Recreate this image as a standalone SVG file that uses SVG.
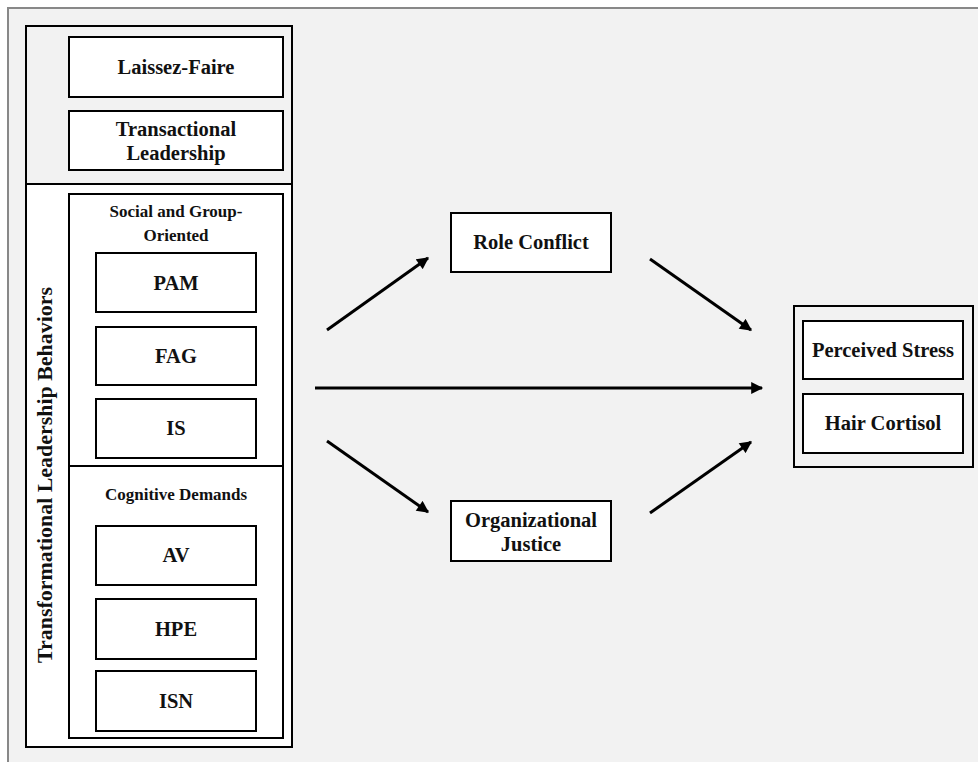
<svg xmlns="http://www.w3.org/2000/svg" width="978" height="762" viewBox="0 0 978 762">
<defs>
<style>
.bg{fill:#f2f2f2}
.box{fill:#ffffff;stroke:#000;stroke-width:2}
.frame{fill:none;stroke:#000;stroke-width:2}
.t{font-family:"Liberation Serif","Times New Roman",serif;font-weight:bold;font-size:20.5px;fill:#111;text-anchor:middle}
.s{font-size:17px}
.conn{stroke:#000;stroke-width:3;fill:none;marker-end:url(#ah)}
</style>
<marker id="ah" viewBox="0 0 10 10" refX="9" refY="5" markerWidth="4.5" markerHeight="4" orient="auto" markerUnits="strokeWidth">
<path d="M0,0 L10,5 L0,10 z" fill="#000"/>
</marker>
</defs>
<rect x="0" y="0" width="978" height="762" fill="#ffffff"/>
<rect x="8" y="8" width="972" height="760" class="bg" stroke="#888" stroke-width="2"/>

<g id="left-panel">
<rect x="26" y="26" width="266" height="721" fill="#f2f2f2" stroke="#000" stroke-width="2"/>
<rect x="26" y="184" width="266" height="563" fill="#ffffff" stroke="#000" stroke-width="2"/>
<text class="t" transform="translate(52,475) rotate(-90)" textLength="376" lengthAdjust="spacingAndGlyphs" style="font-size:21px">Transformational  Leadership Behaviors</text>
</g>
<g id="laissez-faire">
<rect x="69" y="37" width="214" height="60" class="box"/>
<text class="t" x="176" y="74">Laissez-Faire</text>
</g>
<g id="transactional">
<rect x="69" y="111" width="214" height="59" class="box"/>
<text class="t" x="176" y="136">Transactional</text>
<text class="t" x="176" y="160">Leadership</text>
</g>
<g id="social-group">
<rect x="69" y="194" width="214" height="544" class="box"/>
<line x1="69" y1="466" x2="283" y2="466" stroke="#000" stroke-width="2"/>
<text class="t s" x="176" y="217">Social and Group-</text>
<text class="t s" x="176" y="241">Oriented</text>
</g>
<g id="cognitive">
<text class="t s" x="176" y="500">Cognitive Demands</text>
</g>
<g id="pam"><rect x="96" y="253" width="160" height="59" class="box"/><text class="t" x="176" y="290">PAM</text></g>
<g id="fag"><rect x="96" y="327" width="160" height="58" class="box"/><text class="t" x="176" y="363">FAG</text></g>
<g id="is"><rect x="96" y="399" width="160" height="59" class="box"/><text class="t" x="176" y="435">IS</text></g>
<g id="av"><rect x="96" y="526" width="160" height="59" class="box"/><text class="t" x="176" y="562">AV</text></g>
<g id="hpe"><rect x="96" y="599" width="160" height="60" class="box"/><text class="t" x="176" y="636">HPE</text></g>
<g id="isn"><rect x="96" y="671" width="160" height="60" class="box"/><text class="t" x="176" y="708">ISN</text></g>

<g id="role-conflict">
<rect x="451" y="213" width="160" height="59" class="box"/>
<text class="t" x="531" y="249">Role Conflict</text>
</g>
<g id="org-justice">
<rect x="451" y="501" width="160" height="60" class="box"/>
<text class="t" x="531" y="527">Organizational</text>
<text class="t" x="531" y="551">Justice</text>
</g>
<g id="outcomes">
<rect x="794" y="306" width="179" height="161" class="frame"/>
<g id="perceived-stress">
<rect x="803" y="321" width="160" height="58" class="box"/>
<text class="t" x="883" y="357">Perceived Stress</text>
</g>
<g id="hair-cortisol">
<rect x="803" y="394" width="160" height="59" class="box"/>
<text class="t" x="883" y="430">Hair Cortisol</text>
</g>
</g>

<g id="connectors">
<line class="conn" x1="327" y1="330" x2="428" y2="258"/>
<line class="conn" x1="650" y1="259" x2="751" y2="330"/>
<line class="conn" x1="315" y1="388" x2="762" y2="388"/>
<line class="conn" x1="327" y1="441" x2="428" y2="512"/>
<line class="conn" x1="650" y1="513" x2="751" y2="442"/>
</g>
</svg>
